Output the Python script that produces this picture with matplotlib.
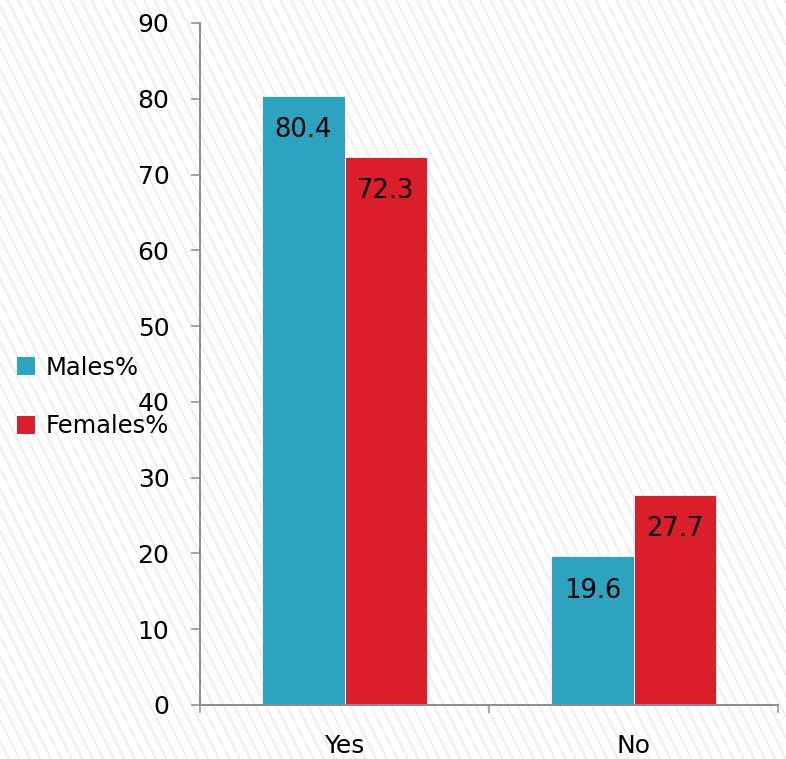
import matplotlib
matplotlib.use("Agg")
import matplotlib.pyplot as plt
from matplotlib.patches import Patch
import numpy as np

categories = ["Yes", "No"]
males = [80.4, 19.6]
females = [72.3, 27.7]
series_names = ["Males%", "Females%"]
yticks = [0, 10, 20, 30, 40, 50, 60, 70, 80, 90]

teal = "#2EA3BF"
red = "#DA1F2A"
axis_grey = "#8c8c8c"

W, H = 786, 759
fig = plt.figure(figsize=(W / 100, H / 100), dpi=100)

# hatched background decoration
bg = fig.add_axes([0, 0, 1, 1], zorder=-10)
bg.set_xlim(0, W)
bg.set_ylim(0, H)
bg.axis("off")
dx = 0.5  # horizontal run per unit of vertical drop
for x0 in np.arange(-H, W + H, 10.5):
    bg.plot([x0, x0 + dx * H], [H, 0], color="#e7e7e7", lw=0.9, solid_capstyle="butt")

ax = fig.add_axes([200 / W, 54 / H, 578 / W, 682 / H])
ax.patch.set_alpha(0)
x = np.arange(len(categories))
bw = 0.285
b1 = ax.bar(x - bw / 2, males, bw, color=teal, edgecolor="#f2f2f2", linewidth=0.7, label=series_names[0])
b2 = ax.bar(x + bw / 2, females, bw, color=red, edgecolor="#f2f2f2", linewidth=0.7, label=series_names[1])

for bars, vals in ((b1, males), (b2, females)):
    for r, v in zip(bars, vals):
        ax.annotate(f"{v}", (r.get_x() + r.get_width() / 2, v), xytext=(0, -24.5),
                    textcoords="offset points", ha="center", va="center", fontsize=18.5, color="black")

ax.set_xlim(-0.5, len(categories) - 0.5)
ax.set_ylim(0, 90)
ax.set_yticks(yticks)
ax.set_xticks(x)
ax.set_xticklabels(categories)
ax.set_xticks(np.arange(-0.5, len(categories), 1.0), minor=True)
ax.tick_params(axis="x", which="major", length=0, pad=21, labelsize=18)
ax.tick_params(axis="x", which="minor", length=6, width=1.1, color=axis_grey, direction="out")
ax.tick_params(axis="y", length=6.5, width=1.1, color=axis_grey, pad=15.5, labelsize=18)
for s in ("top", "right"):
    ax.spines[s].set_visible(False)
for s in ("left", "bottom"):
    ax.spines[s].set_color(axis_grey)
    ax.spines[s].set_linewidth(1.4)

handles = [Patch(facecolor=teal, edgecolor="none"), Patch(facecolor=red, edgecolor="none")]
fig.legend(handles, series_names, loc="center left", bbox_to_anchor=(17 / W, 1 - 397 / H),
           frameon=False, fontsize=17.5, handlelength=0.75, handleheight=0.75,
           handletextpad=0.42, labelspacing=1.42, borderpad=0, borderaxespad=0)

fig.savefig("out.png", dpi=100)
